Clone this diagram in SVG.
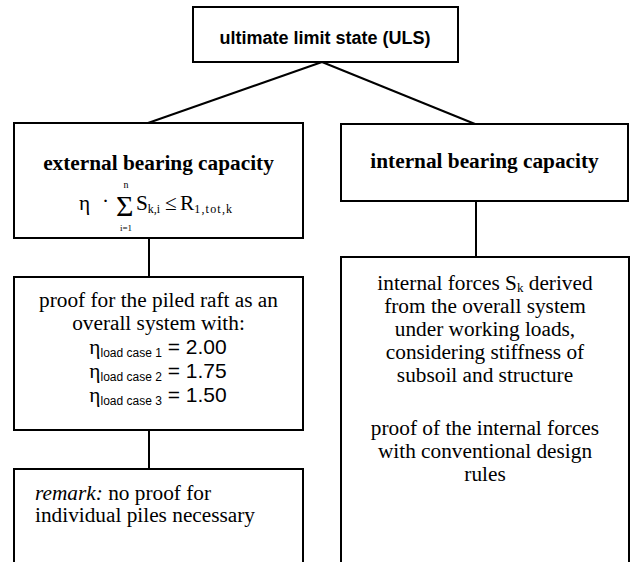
<svg xmlns="http://www.w3.org/2000/svg" width="636" height="562" viewBox="0 0 636 562">
<style>
.box{fill:#fff;stroke:#000;stroke-width:2}
.con{fill:none;stroke:#000;stroke-width:2}
.h{font-family:"Liberation Serif",serif;font-weight:bold;font-size:21.3px;fill:#000}
.t{font-family:"Liberation Serif",serif;font-size:21.3px;fill:#000}
.a{font-family:"Liberation Sans",Arial,sans-serif;fill:#000}
</style>
<rect width="636" height="562" fill="#fff"/>
<g id="connectors">
<line class="con" x1="322" y1="62" x2="148" y2="123"/>
<line class="con" x1="322" y1="62" x2="475" y2="124"/>
<line class="con" x1="149" y1="238" x2="149" y2="277"/>
<line class="con" x1="149" y1="430" x2="149" y2="469"/>
<line class="con" x1="476" y1="201" x2="476" y2="257"/>
</g>
<g id="uls">
<rect class="box" x="193" y="7" width="265" height="55"/>
<text class="a" x="325" y="44" text-anchor="middle" font-size="18" font-weight="bold">ultimate limit state (ULS)</text>
</g>
<g id="external">
<rect class="box" x="14" y="123" width="289" height="115"/>
<text class="h" x="158.5" y="170" text-anchor="middle">external bearing capacity</text>
<g class="t">
<text x="79" y="210">η</text>
<text x="102" y="208">·</text>
<text x="116" y="216" font-size="30">Σ</text>
<text x="126" y="188" font-size="10" text-anchor="middle">n</text>
<text x="126" y="231" font-size="9" text-anchor="middle">i=1</text>
<text x="136" y="210">S<tspan font-size="12" dy="3">k,i</tspan></text>
<text x="165" y="210">≤</text>
<text x="180" y="210">R<tspan font-size="12" dy="3" letter-spacing="1.2">1,tot,k</tspan></text>
</g>
</g>
<g id="proof-raft">
<rect class="box" x="14" y="277" width="289" height="153"/>
<text class="t" x="158.5" y="307" text-anchor="middle">proof for the piled raft as an</text>
<text class="t" x="158.5" y="330" text-anchor="middle">overall system with:</text>
<text x="158" y="354" text-anchor="middle"><tspan class="t">η</tspan><tspan class="a" font-size="12" dy="3">load case 1</tspan><tspan class="a" font-size="21" dy="-3"> = 2.00</tspan></text>
<text x="158" y="378" text-anchor="middle"><tspan class="t">η</tspan><tspan class="a" font-size="12" dy="3">load case 2</tspan><tspan class="a" font-size="21" dy="-3"> = 1.75</tspan></text>
<text x="158" y="402" text-anchor="middle"><tspan class="t">η</tspan><tspan class="a" font-size="12" dy="3">load case 3</tspan><tspan class="a" font-size="21" dy="-3"> = 1.50</tspan></text>
</g>
<g id="remark">
<path class="box" d="M14,563 V469 H303 V563"/>
<text class="t" x="35" y="500"><tspan font-style="italic">remark:</tspan> no proof for</text>
<text class="t" x="35" y="522">individual piles necessary</text>
</g>
<g id="internal">
<rect class="box" x="341" y="124" width="287" height="77"/>
<text class="h" x="484.5" y="168" text-anchor="middle">internal bearing capacity</text>
</g>
<g id="internal-forces">
<path class="box" d="M341,563 V257 H629 V563"/>
<text class="t" x="485" y="290" text-anchor="middle">internal forces S<tspan font-size="13" dy="2">k</tspan><tspan dy="-2"> derived</tspan></text>
<text class="t" x="485" y="313" text-anchor="middle">from the overall system</text>
<text class="t" x="485" y="336" text-anchor="middle">under working loads,</text>
<text class="t" x="485" y="359" text-anchor="middle">considering stiffness of</text>
<text class="t" x="485" y="382" text-anchor="middle">subsoil and structure</text>
<text class="t" x="485" y="435" text-anchor="middle">proof of the internal forces</text>
<text class="t" x="485" y="458" text-anchor="middle">with conventional design</text>
<text class="t" x="485" y="481" text-anchor="middle">rules</text>
</g>
</svg>
